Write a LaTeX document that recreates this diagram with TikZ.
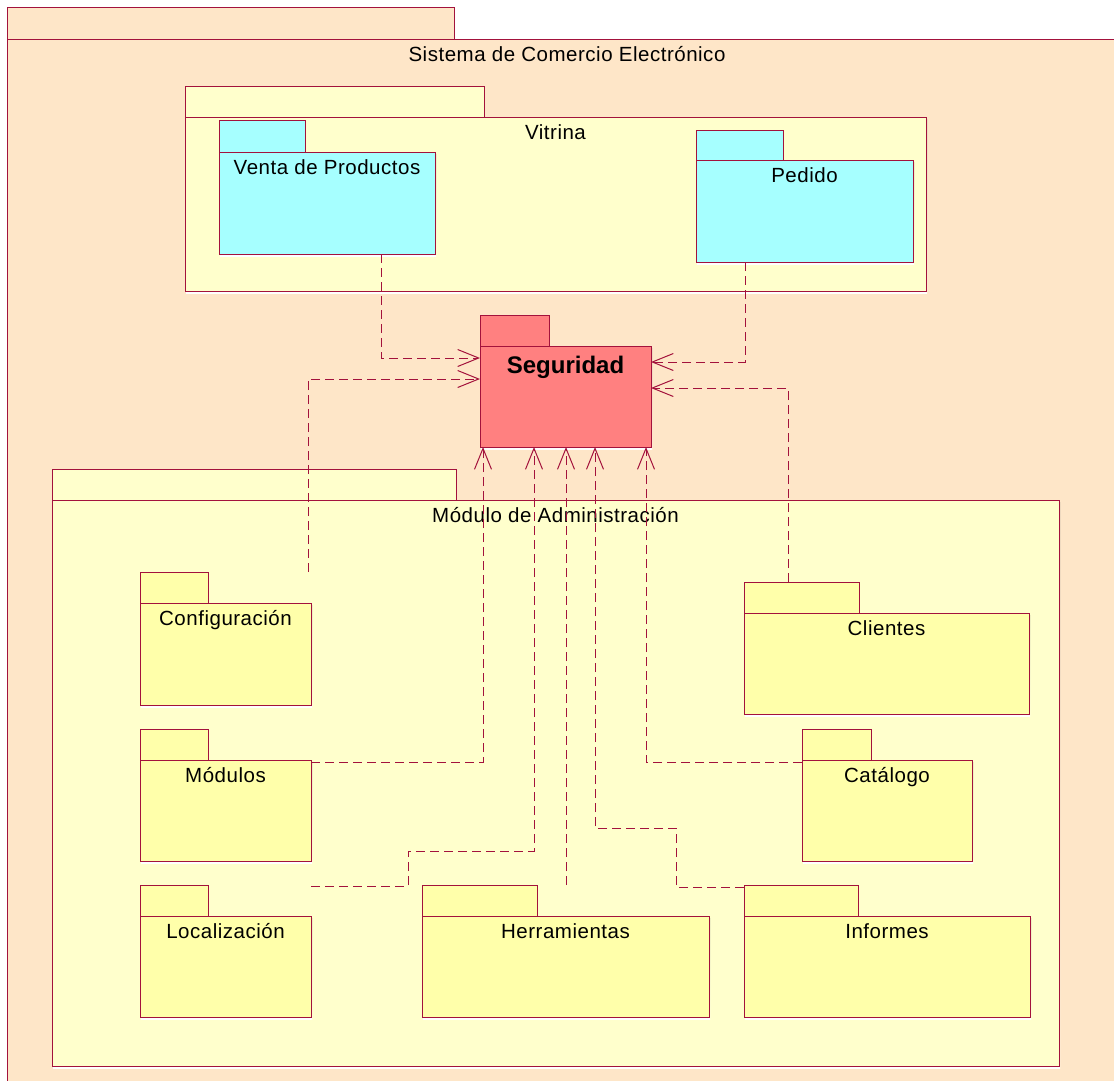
\documentclass[tikz,border=0pt]{standalone}
\usepackage{fontspec}
\setmainfont{Liberation Sans}[LetterSpace=2.5, BoldFeatures={LetterSpace=0}]
\usetikzlibrary{arrows.meta}

\definecolor{edge}{RGB}{163,18,60}
\definecolor{shade}{RGB}{200,128,128}
\definecolor{outerfill}{RGB}{254,230,200}
\definecolor{palefill}{RGB}{255,255,204}
\definecolor{yellowfill}{RGB}{255,255,170}
\definecolor{cyanfill}{RGB}{166,255,255}
\definecolor{redfill}{RGB}{255,128,128}

% UML package: body with tab on its top-left corner, title below the body's top edge
% #1 name, #2 body top-left (x,y), #3 width, #4 height, #5 tab width, #6 tab height,
% #7 fill, #8 title, #9 title style
\newcommand\umlpackage[9]{%
  \fill[shade] ([shift={(1,2)}]#2) rectangle ++(#3,#4);
  \node[pkgtab, fill=#7, minimum width=#5pt, minimum height=#6pt, anchor=south west] (#1tab) at (#2) {};
  \node[pkgbody, fill=#7, minimum width=#3pt, minimum height=#4pt, anchor=north west] (#1) at (#2) {};
  \node[#9] (#1title) at (#1.north) {#8};
}

\begin{document}
\begin{tikzpicture}[x=1pt, y=-1pt,
  pkgtab/.style={draw=edge, line width=1pt, inner sep=0pt, outer sep=0pt, rectangle},
  pkgbody/.style={draw=edge, line width=1pt, inner sep=0pt, outer sep=0pt, rectangle},
  title/.style={anchor=base, yshift=-22pt, inner sep=0pt, font=\fontsize{20.5}{24}\selectfont},
  boldtitle/.style={anchor=base, yshift=-27pt, inner sep=0pt, font=\fontsize{24}{28}\selectfont\bfseries},
  dep/.style={draw=edge, line width=1pt, dash pattern=on 9pt off 5pt,
    -{Straight Barb[length=21pt, width=17pt, line width=1pt]}}
]
\useasboundingbox (0,0) rectangle (1114,1080);
\fill[white] (0,0) rectangle (1114,1080);
\begin{scope}
\clip (0,0) rectangle (1114,1080);

% enclosing system package
\umlpackage{sys}{7,39}{1120}{1060}{447}{32}{outerfill}{Sistema de Comercio Electrónico}{title}

% storefront
\umlpackage{vit}{185,117}{741}{174}{299}{31}{palefill}{Vitrina}{title}
\umlpackage{venta}{219,152}{216}{102}{86}{32}{cyanfill}{Venta de Productos}{title}
\umlpackage{pedido}{696,160}{217}{102}{87}{30}{cyanfill}{Pedido}{title}

% security
\umlpackage{seg}{480,346}{171}{101}{69}{31}{redfill}{Seguridad}{boldtitle}

% administration module
\umlpackage{adm}{52,500}{1007}{566}{404}{31}{palefill}{Módulo de Administración}{title}
\umlpackage{conf}{140,603}{171}{102}{68}{31}{yellowfill}{Configuración}{title}
\umlpackage{modu}{140,760}{171}{101}{68}{31}{yellowfill}{Módulos}{title}
\umlpackage{loc}{140,916}{171}{101}{68}{31}{yellowfill}{Localización}{title}
\umlpackage{herr}{422,916}{287}{101}{115}{31}{yellowfill}{Herramientas}{title}
\umlpackage{inf}{744,916}{286}{101}{114}{31}{yellowfill}{Informes}{title}
\umlpackage{cli}{744,613}{285}{101}{115}{31}{yellowfill}{Clientes}{title}
\umlpackage{cat}{802,760}{170}{101}{69}{31}{yellowfill}{Catálogo}{title}

% dependencies on Seguridad
\draw[dep] ([xshift=162pt]venta.south west) |- ([yshift=-12pt]seg.north west);
\draw[dep] ([xshift=-3pt, yshift=31pt]conf.north east) |- ([yshift=-33pt]seg.north west);
\draw[dep] ([xshift=49pt]pedido.south west) |- ([yshift=-16pt]seg.north east);
\draw[dep] ([xshift=44pt]clitab.north west) |- ([yshift=-42pt]seg.north east);
\draw[dep] ([yshift=-2pt]modu.north east) -| ([xshift=3pt]seg.south west);
\draw[dep] ([yshift=30pt]loc.north east) -| (408,851) -| ([xshift=54pt]seg.south west);
\draw[dep] ([xshift=144pt]herrtab.north west) -- ([xshift=86pt]seg.south west);
\draw[dep] ([yshift=-2pt]inftab.north west) -| (676,828) -| ([xshift=115pt]seg.south west);
\draw[dep] ([yshift=-2pt]cat.north west) -| ([xshift=166pt]seg.south west);
\end{scope}
\end{tikzpicture}
\end{document}
